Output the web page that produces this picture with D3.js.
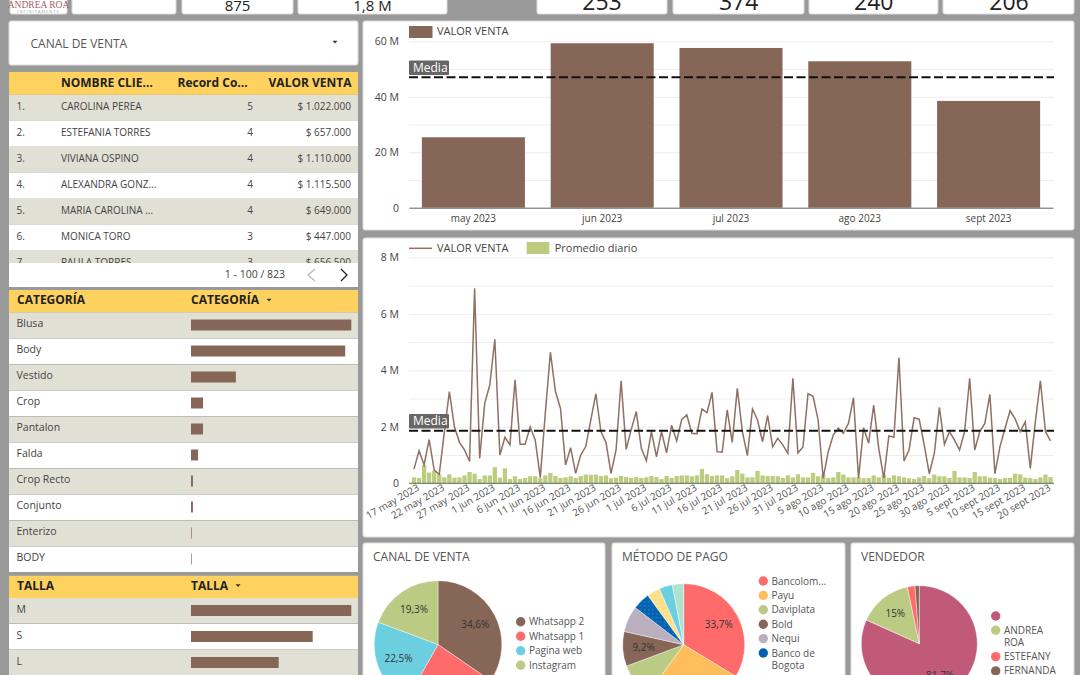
<!DOCTYPE html>
<html>
<head>
<meta charset="utf-8">
<script src="https://cdn.jsdelivr.net/npm/d3@7"></script>
<style>
  html, body { margin: 0; padding: 0; background: #999; overflow: hidden; }
  svg { display: block; font-family: "Open Sans", sans-serif; }
</style>
</head>
<body>
<svg id="tablero" width="1080" height="675"></svg>
<script>
// datos
var meses = ["may 2023", "jun 2023", "jul 2023", "ago 2023", "sept 2023"];
var ventaMes = [25.4, 59.3, 57.6, 52.8, 38.5];
var mediaMes = 47;

var ventaDia = [0.5, 1.15, 0.65, 1.55, 0.47, 0.32, 1.8, 3.25, 2.0, 1.45, 1.18, 0.77, 6.9, 0.88, 2.83, 3.48, 5.1, 1.0, 1.63, 1.36,
  3.66, 1.38, 1.38, 2.0, 1.53, 0.2, 2.5, 4.64, 3.25, 2.65, 0.65, 1.26, 0.35, 1.0, 1.3, 2.24, 3.17, 1.83, 1.45, 0.35,
  1.18, 3.63, 1.2, 1.9, 2.54, 1.24, 0.8, 1.83, 0.94, 1.83, 1.08, 2.06, 1.5, 2.26, 2.42, 1.77, 1.75, 2.63, 2.5, 3.22,
  1.12, 1.1, 2.6, 1.45, 3.36, 1.83, 0.98, 2.63, 2.24, 1.47, 2.4, 1.29, 1.59, 1.36, 1.06, 3.72, 1.07, 1.29, 3.17, 3.08,
  2.24, 0.18, 1.12, 1.71, 1.95, 1.77, 2.12, 3.03, 0.18, 1.97, 1.42, 2.77, 1.24, 0.18, 1.68, 1.63, 4.45, 0.79, 1.18, 2.32,
  2.27, 1.36, 0.34, 1.06, 2.69, 1.38, 1.83, 1.53, 1.18, 1.83, 3.72, 1.18, 1.83, 2.12, 3.15, 0.34, 1.3, 1.95, 2.57, 2.28,
  1.83, 2.18, 0.53, 2.18, 3.63, 1.83, 1.5];
var promedioDia = [0.21, 0.19, 0.65, 0.38, 0.45, 0.32, 0.21, 0.32, 0.2, 0.21, 0.28, 0.4, 0.34, 0.15, 0.28, 0.28, 0.57, 0.2, 0.53, 0.15,
  0.25, 0.15, 0.19, 0.25, 0.25, 0.18, 0.28, 0.37, 0.26, 0.19, 0.21, 0.25, 0.19, 0.25, 0.31, 0.3, 0.31, 0.26, 0.28, 0.18,
  0.2, 0.26, 0.22, 0.19, 0.22, 0.19, 0.21, 0.26, 0.22, 0.15, 0.26, 0.19, 0.26, 0.28, 0.28, 0.25, 0.28, 0.51, 0.32, 0.26,
  0.28, 0.28, 0.18, 0.25, 0.47, 0.34, 0.21, 0.21, 0.44, 0.28, 0.26, 0.26, 0.25, 0.19, 0.28, 0.21, 0.32, 0.21, 0.21, 0.37,
  0.25, 0.31, 0.19, 0.21, 0.4, 0.31, 0.21, 0.21, 0.21, 0.18, 0.19, 0.28, 0.21, 0.31, 0.19, 0.28, 0.25, 0.21, 0.18, 0.15,
  0.21, 0.26, 0.18, 0.31, 0.25, 0.25, 0.19, 0.44, 0.21, 0.21, 0.19, 0.4, 0.25, 0.25, 0.2, 0.19, 0.15, 0.19, 0.19, 0.34,
  0.32, 0.2, 0.19, 0.15, 0.21, 0.31, 0.22];
var mediaDia = 1.86;
var etiquetasDia = ["17 may 2023", "22 may 2023", "27 may 2023", "1 jun 2023", "6 jun 2023", "11 jun 2023", "16 jun 2023",
  "21 jun 2023", "26 jun 2023", "1 jul 2023", "6 jul 2023", "11 jul 2023", "16 jul 2023", "21 jul 2023", "26 jul 2023",
  "31 jul 2023", "5 ago 2023", "10 ago 2023", "15 ago 2023", "20 ago 2023", "25 ago 2023", "30 ago 2023", "5 sept 2023",
  "10 sept 2023", "15 sept 2023", "20 sept 2023"];

var clientes = ["CAROLINA PEREA", "ESTEFANIA TORRES", "VIVIANA OSPINO", "ALEXANDRA GONZ...", "MARIA CAROLINA ...", "MONICA TORO", "PAULA TORRES"];
var registros = [5, 4, 4, 4, 4, 3, 3];
var valorCliente = ["$ 1.022.000", "$ 657.000", "$ 1.110.000", "$ 1.115.500", "$ 649.000", "$ 447.000", "$ 656.500"];

var categorias = ["Blusa", "Body", "Vestido", "Crop", "Pantalon", "Falda", "Crop Recto", "Conjunto", "Enterizo", "BODY"];
var ventaCategoria = [100, 96.2, 28, 7.5, 7.5, 4.4, 1.2, 1.2, 0.4, 0.4];
var tallas = ["M", "S", "L"];
var ventaTalla = [100, 75.9, 54.7];

var canales = ["Whatsapp 2", "Whatsapp 1", "Pagina web", "Instagram"];
var pctCanal = [34.6, 23.6, 22.5, 19.3];
var etiquetaCanal = ["34,6%", "", "22,5%", "19,3%"];
var colorCanal = ["#866657", "#ff6b6b", "#6ccfdf", "#bccb84"];

var metodos = [["Bancolom..."], ["Payu"], ["Daviplata"], ["Bold"], ["Nequi"], ["Banco de", "Bogota"], [""], [""], [""]];
var pctMetodo = [33.7, 26.3, 9.3, 9.2, 6.9, 4.6, 3.5, 3.5, 3];
var etiquetaMetodo = ["33,7%", "", "", "9,2%", "", "", "", "", ""];
var colorMetodo = ["#ff6b6b", "#ffbe5c", "#bccb84", "#866657", "#bbaebe", "url(#puntosAzul)", "url(#puntosAmarillo)", "#6ccfdf", "#b0e3cf"];
var colorLeyendaMetodo = ["#ff6b6b", "#ffbe5c", "#bccb84", "#866657", "#bbaebe", "#0062b1", "#ffdf85", "#6ccfdf", "#b0e3cf"];

var vendedores = [[""], ["ANDREA", "ROA"], ["ESTEFANY"], ["FERNANDA"]];
var pctVendedor = [81.7, 15, 2.1, 1.2];
var etiquetaVendedor = ["81,7%", "15%", "", ""];
var colorVendedor = ["#c15a78", "#bccb84", "#ff6b6b", "#866657"];

var kpis = ["875", "1,8 M", "253", "374", "240", "206"];

var CAFE = "#866657", AMARILLO = "#ffd25f", FILA = "#e0e0d5", TEXTO = "#444";

var svg = d3.select("#tablero");
var defs = svg.append("defs");

function tarjeta(x0, y0, x1, y1) {
  return svg.append("rect").attr("x", x0).attr("y", y0).attr("width", x1 - x0).attr("height", y1 - y0)
    .attr("rx", 2).attr("fill", "#fff").attr("stroke", "#dcdcdc").attr("stroke-width", 1);
}

function texto(g, x, y, t, size, color, anchor, weight) {
  return g.append("text").attr("x", x).attr("y", y).attr("dy", "0.35em").text(t)
    .attr("font-size", size).attr("fill", color).attr("text-anchor", anchor || "start")
    .attr("font-weight", weight || 400);
}

function recorte(id, x0, y0, x1, y1) {
  defs.append("clipPath").attr("id", id).append("rect")
    .attr("x", x0).attr("y", y0).attr("width", x1 - x0).attr("height", y1 - y0);
}

function puntos(id, base, punto) {
  var p = defs.append("pattern").attr("id", id).attr("width", 4).attr("height", 4)
    .attr("patternUnits", "userSpaceOnUse");
  p.append("rect").attr("width", 4).attr("height", 4).attr("fill", base);
  p.append("circle").attr("cx", 1).attr("cy", 1).attr("r", 0.7).attr("fill", punto);
}
puntos("puntosAzul", "#0062b1", "#4d8fc9");
puntos("puntosAmarillo", "#ffdf85", "#fff3cf");

// fila superior de indicadores
var xKpi = [[72, 176], [182, 293], [298, 447], [537, 667], [673, 804], [809, 938], [943, 1074]];
xKpi.forEach(function(c) { tarjeta(c[0], -6, c[1], 14); });
tarjeta(10, -6, 67, 14);
svg.append("text").attr("x", 38.5).attr("y", 8).attr("text-anchor", "middle").attr("font-family", "Liberation Serif")
  .attr("font-size", 9.5).attr("fill", "#a5606a").text("ANDREA ROA");
svg.append("text").attr("x", 38.5).attr("y", 13).attr("text-anchor", "middle")
  .attr("font-size", 4).attr("letter-spacing", 1).attr("fill", "#aaa").text("INFINITAMENTE");
texto(svg, 237.5, 6, kpis[0], 15, "#222", "middle");
texto(svg, 372.5, 6, kpis[1], 15, "#222", "middle");
[602, 738.7, 873.8, 1009].forEach(function(x, i) {
  svg.append("text").attr("x", x).attr("y", 9.5).attr("text-anchor", "middle")
    .attr("font-size", 23).attr("fill", "#222").text(kpis[i + 2]);
});

// selector de canal
tarjeta(9, 21, 358, 65);
texto(svg, 30.5, 43.5, "CANAL DE VENTA", 12, "#555");
function triangulo(x, y) {
  svg.append("path").attr("d", d3.line()([[x - 2.5, y - 1.2], [x + 2.5, y - 1.2], [x, y + 1.5]])).attr("fill", "#333");
}
triangulo(335, 42);

// tabla de clientes
recorte("recorteClientes", 9, 72, 358, 263);
var gClientes = svg.append("g").attr("clip-path", "url(#recorteClientes)");
var yCliente = d3.scaleBand().domain(d3.range(clientes.length)).range([94.7, 94.7 + 26 * clientes.length]);
gClientes.selectAll("rect.fila").data(clientes).enter().append("rect").attr("class", "fila")
  .attr("x", 9).attr("width", 349).attr("y", function(d, i) { return yCliente(i); })
  .attr("height", yCliente.bandwidth()).attr("fill", function(d, i) { return i % 2 ? "#fff" : FILA; });
clientes.forEach(function(c, i) {
  var y = yCliente(i) + 11.5;
  texto(gClientes, 16.5, y, (i + 1) + ".", 10, TEXTO);
  texto(gClientes, 61, y, c, 10, TEXTO);
  texto(gClientes, 253, y, registros[i], 10, TEXTO, "end");
  texto(gClientes, 351, y, valorCliente[i], 10, TEXTO, "end");
});
svg.append("rect").attr("x", 9).attr("y", 72).attr("width", 349).attr("height", 22.7).attr("fill", AMARILLO);
texto(svg, 61, 82.5, "NOMBRE CLIE...", 12, "#222", "start", 700);
texto(svg, 177.5, 82.5, "Record Co...", 12, "#222", "start", 700);
texto(svg, 351.5, 82.5, "VALOR VENTA", 12, "#222", "end", 700);
svg.append("rect").attr("x", 9).attr("y", 263).attr("width", 349).attr("height", 24).attr("fill", "#fff");
texto(svg, 285, 274, "1 - 100 / 823", 10.5, "#444", "end");
svg.append("path").attr("d", d3.line()([[315, 269], [308, 275], [315, 281]])).attr("fill", "none").attr("stroke", "#bbb").attr("stroke-width", 1.3);
svg.append("path").attr("d", d3.line()([[341, 269], [347, 275], [341, 281]])).attr("fill", "none").attr("stroke", "#222").attr("stroke-width", 1.3);

// tablas con barras (categoria y talla)
var xBarra = d3.scaleLinear().domain([0, 100]).range([191, 351.3]);

function tablaBarras(nombre, titulo, y0, filas, valores, yFin) {
  recorte(nombre, 9, y0, 358, yFin);
  var g = svg.append("g").attr("clip-path", "url(#" + nombre + ")");
  g.append("rect").attr("x", 9).attr("y", y0).attr("width", 349).attr("height", 22.5).attr("fill", AMARILLO);
  texto(g, 17, y0 + 10, titulo, 12, "#222", "start", 700);
  var tx = texto(g, 191, y0 + 10, titulo, 12, "#222", "start", 700);
  triangulo(191 + tx.node().getComputedTextLength() + 10, y0 + 10);
  var y = d3.scaleBand().domain(filas).range([y0 + 22.5, y0 + 22.5 + 26 * filas.length]);
  g.selectAll("rect.fila").data(filas).enter().append("rect").attr("class", "fila")
    .attr("x", 9).attr("width", 349).attr("y", function(d) { return y(d); })
    .attr("height", y.bandwidth() - 0.5).attr("fill", function(d, i) { return i % 2 ? "#fff" : FILA; });
  g.selectAll("rect.barra").data(valores).enter().append("rect").attr("class", "barra")
    .attr("x", xBarra(0)).attr("y", function(d, i) { return y(filas[i]) + 7; })
    .attr("width", function(d) { return xBarra(d) - xBarra(0); }).attr("height", 11).attr("fill", CAFE);
  filas.forEach(function(f) { texto(g, 16.5, y(f) + 11, f, 10.5, TEXTO); });
}
svg.append("rect").attr("x", 9).attr("y", 287).attr("width", 349).attr("height", 3).attr("fill", "#999");
tablaBarras("recorteCategoria", "CATEGORÍA", 290, categorias, ventaCategoria, 574);
tablaBarras("recorteTalla", "TALLA", 575.5, tallas, ventaTalla, 675);

// ejes comunes de los dos graficos cartesianos
function ejeY(y, lineas, marcas, formato) {
  var grid = svg.append("g").attr("transform", "translate(409,0)")
    .call(d3.axisLeft(y).tickValues(lineas).tickSize(-645).tickFormat(""));
  grid.select(".domain").remove();
  grid.selectAll("line").attr("stroke", "#eee");
  var eje = svg.append("g").attr("transform", "translate(409,0)")
    .call(d3.axisLeft(y).tickValues(marcas).tickSize(0).tickPadding(10).tickFormat(formato));
  eje.select(".domain").remove();
  eje.selectAll("text").attr("font-family", "Open Sans").attr("font-size", 10.5).attr("fill", "#444");
}

function lineaMedia(y, valor, yCaja) {
  svg.append("line").attr("x1", 409).attr("x2", 1054).attr("y1", y(valor)).attr("y2", y(valor))
    .attr("stroke", "#111").attr("stroke-width", 2).attr("stroke-dasharray", "9 3.5");
  svg.append("rect").attr("x", 409).attr("y", yCaja).attr("width", 40).attr("height", 14.5).attr("rx", 1).attr("fill", "#666");
  texto(svg, 413, yCaja + 7.2, "Media", 12, "#fff");
}

var formatoM = function(d) { return d === 0 ? "0" : d + " M"; };

// ventas por mes
tarjeta(363, 21, 1074, 230);
var xMes = d3.scaleBand().domain(meses).range([409, 1053]).paddingInner(0.2).paddingOuter(0.1);
var yMes = d3.scaleLinear().domain([0, 60]).range([207.7, 41.3]);
ejeY(yMes, d3.range(0, 70, 10), [0, 20, 40, 60], formatoM);
svg.selectAll("rect.mes").data(ventaMes).enter().append("rect").attr("class", "mes")
  .attr("x", function(d, i) { return xMes(meses[i]); }).attr("y", function(d) { return yMes(d); })
  .attr("width", xMes.bandwidth()).attr("height", function(d) { return yMes(0) - yMes(d); }).attr("fill", CAFE);
var ejeMes = svg.append("g").attr("transform", "translate(0,207.7)").call(d3.axisBottom(xMes).tickSize(0).tickPadding(7));
ejeMes.select(".domain").attr("stroke", "#666");
ejeMes.selectAll("text").attr("font-family", "Open Sans").attr("font-size", 10).attr("fill", "#444");
lineaMedia(yMes, mediaMes, 60.5);
svg.append("rect").attr("x", 409).attr("y", 26).attr("width", 23.5).attr("height", 12).attr("fill", CAFE);
texto(svg, 437, 31.5, "VALOR VENTA", 11, "#444");

// ventas por dia
tarjeta(363, 238, 1074, 537);
var dias = d3.range(ventaDia.length);
var xDia = d3.scaleBand().domain(dias).range([411.5, 1053]).paddingInner(0.15).paddingOuter(0.07);
var yDia = d3.scaleLinear().domain([0, 8]).range([483.3, 257.3]);
ejeY(yDia, d3.range(0, 9), [0, 2, 4, 6, 8], formatoM);
svg.selectAll("rect.promedio").data(promedioDia).enter().append("rect").attr("class", "promedio")
  .attr("x", function(d, i) { return xDia(i); }).attr("y", function(d) { return yDia(d); })
  .attr("width", xDia.bandwidth()).attr("height", function(d) { return yDia(0) - yDia(d); }).attr("fill", "#bccd80");
var lineaVenta = d3.line().x(function(d, i) { return xDia(i) + xDia.bandwidth() / 2; }).y(function(d) { return yDia(d); });
svg.append("path").datum(ventaDia).attr("d", lineaVenta).attr("fill", "none").attr("stroke", "#8f7063").attr("stroke-width", 1.5);
var ejeDia = svg.append("g").attr("transform", "translate(0,483.3)")
  .call(d3.axisBottom(xDia).tickValues(etiquetasDia.map(function(d, i) { return i * 5; })).tickSize(0)
    .tickFormat(function(d) { return etiquetasDia[d / 5]; }));
ejeDia.select(".domain").attr("stroke", "#666").attr("d", "M409,0H1054");
ejeDia.selectAll("text").attr("font-family", "Open Sans").attr("font-size", 10).attr("fill", "#555")
  .attr("text-anchor", "end").attr("dx", "2").attr("dy", "0.55em").attr("transform", "rotate(-30)");
lineaMedia(yDia, mediaDia, 414);
svg.append("line").attr("x1", 409).attr("x2", 432).attr("y1", 248.3).attr("y2", 248.3).attr("stroke", "#8f7063").attr("stroke-width", 1.5);
texto(svg, 437, 248.3, "VALOR VENTA", 11, "#444");
svg.append("rect").attr("x", 526.7).attr("y", 242).attr("width", 22.6).attr("height", 12).attr("fill", "#bccd80");
texto(svg, 554.7, 248.3, "Promedio diario", 11, "#444");

// tortas
function torta(cfg) {
  tarjeta(cfg.x0, 543, cfg.x1, 690);
  texto(svg, cfg.x0 + 10, 557, cfg.titulo, 12, "#555");
  var g = svg.append("g").attr("transform", "translate(" + cfg.cx + "," + cfg.cy + ")");
  var arcos = d3.pie().sort(null)(cfg.valores);
  var arco = d3.arc().innerRadius(0).outerRadius(cfg.r);
  var arcoTexto = d3.arc().innerRadius(cfg.r * 0.66).outerRadius(cfg.r * 0.66);
  g.selectAll("path").data(arcos).enter().append("path").attr("d", arco)
    .attr("fill", function(d, i) { return cfg.colores[i]; })
    .attr("stroke", "#fff").attr("stroke-width", 0.4);
  g.selectAll("text").data(arcos).enter().append("text")
    .attr("transform", function(d) { return "translate(" + arcoTexto.centroid(d) + ")"; })
    .attr("text-anchor", "middle").attr("dy", "0.35em").attr("font-size", 10).attr("fill", "#333")
    .text(function(d, i) { return cfg.etiquetas[i]; });
  var y = cfg.yLeyenda;
  cfg.nombres.forEach(function(n, i) {
    svg.append("circle").attr("cx", cfg.xLeyenda).attr("cy", y).attr("r", 4.7)
      .attr("fill", (cfg.coloresLeyenda || cfg.colores)[i]);
    n.forEach(function(linea, j) {
      texto(svg, cfg.xLeyenda + 8.2, y + j * 12, linea, 10, "#555");
    });
    y += cfg.paso + (n.length - 1) * 12;
  });
}

torta({ titulo: "CANAL DE VENTA", x0: 363, x1: 605, cx: 438, cy: 644.5, r: 63.8, valores: pctCanal, etiquetas: etiquetaCanal,
  colores: colorCanal, nombres: canales.map(function(c) { return [c]; }), xLeyenda: 520.7, yLeyenda: 621.7, paso: 14.5 });
torta({ titulo: "MÉTODO DE PAGO", x0: 612, x1: 845, cx: 683.7, cy: 644.7, r: 61, valores: pctMetodo, etiquetas: etiquetaMetodo,
  colores: colorMetodo, coloresLeyenda: colorLeyendaMetodo, nombres: metodos, xLeyenda: 763.3, yLeyenda: 581, paso: 14.4 });
torta({ titulo: "VENDEDOR", x0: 851, x1: 1074, cx: 919.3, cy: 643.7, r: 58, valores: pctVendedor, etiquetas: etiquetaVendedor,
  colores: colorVendedor, nombres: vendedores, xLeyenda: 995.7, yLeyenda: 616, paso: 14.3 });
</script>
</body>
</html>
